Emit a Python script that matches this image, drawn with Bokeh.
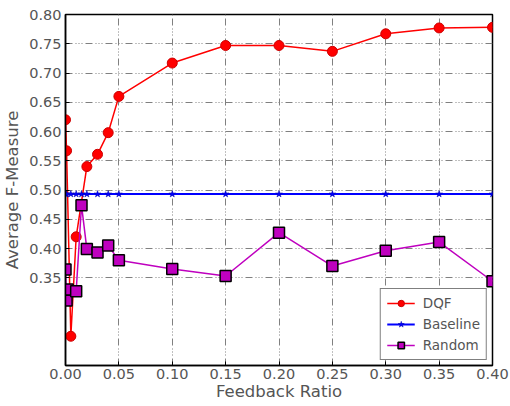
from bokeh.plotting import figure
from bokeh.models import Range1d, FixedTicker, PrintfTickFormatter, Legend, LegendItem
from bokeh.embed import file_html
from bokeh.resources import INLINE

# ---- data ----
dqf_x = [0.0, 0.001, 0.005, 0.01, 0.02, 0.03, 0.04, 0.05, 0.10, 0.15, 0.20, 0.25, 0.30, 0.35, 0.40]
dqf_y = [0.620, 0.567, 0.250, 0.420, 0.540, 0.561, 0.598, 0.660, 0.717, 0.747, 0.747, 0.737, 0.767, 0.777, 0.778]

base_x = [0.0, 0.001, 0.005, 0.01, 0.015, 0.02, 0.03, 0.04, 0.05, 0.10, 0.15, 0.20, 0.25, 0.30, 0.35, 0.40]
base_y = [0.493, 0.493, 0.493, 0.493, 0.493, 0.493, 0.493, 0.493, 0.493, 0.493, 0.493, 0.493, 0.493, 0.493, 0.493, 0.493]

rand_x = [0.0, 0.001, 0.002, 0.01, 0.015, 0.02, 0.03, 0.04, 0.05, 0.10, 0.15, 0.20, 0.25, 0.30, 0.35, 0.40]
rand_y = [0.364, 0.311, 0.330, 0.327, 0.474, 0.399, 0.393, 0.405, 0.380, 0.365, 0.353, 0.427, 0.370, 0.396, 0.411, 0.344]

x_ticks = [0.0, 0.05, 0.10, 0.15, 0.20, 0.25, 0.30, 0.35, 0.40]
y_ticks = [0.35, 0.40, 0.45, 0.50, 0.55, 0.60, 0.65, 0.70, 0.75, 0.80]

FONT = "DejaVu Sans"
TXT = "#555555"

p = figure(output_backend="svg", toolbar_location=None,
           width=510, height=405,
           min_border_left=64, min_border_right=18, min_border_top=14, min_border_bottom=40,
           x_range=Range1d(0.0, 0.4), y_range=Range1d(0.2, 0.8))

p.background_fill_color = "white"
p.border_fill_color = "white"
p.outline_line_color = "black"
p.outline_line_width = 1.5

for ax in (p.xaxis[0], p.yaxis[0]):
    ax.axis_line_color = "black"
    ax.axis_line_width = 1.5
    ax.major_tick_in = 4
    ax.major_tick_out = 0
    ax.minor_tick_line_color = None
    ax.major_label_text_font = FONT
    ax.major_label_text_font_size = "14.5px"
    ax.major_label_text_color = TXT
    ax.axis_label_text_font = FONT
    ax.axis_label_text_font_size = "16.5px"
    ax.axis_label_text_font_style = "normal"
    ax.axis_label_text_color = TXT
    ax.formatter = PrintfTickFormatter(format="%.2f")

p.xaxis.ticker = FixedTicker(ticks=x_ticks)
p.yaxis.ticker = FixedTicker(ticks=y_ticks)
p.xaxis.axis_label = "Feedback Ratio"
p.yaxis.axis_label = "Average F-Measure"
p.xaxis.major_label_standoff = 3
p.yaxis.major_label_standoff = 4
p.xaxis.axis_label_standoff = 0
p.yaxis.axis_label_standoff = 4

for g in (p.xgrid[0], p.ygrid[0]):
    g.grid_line_color = "#808080"
    g.grid_line_width = 1
    g.grid_line_dash = "7 3 1 2 1 2 1 3"

# DQF
l1 = p.line(dqf_x, dqf_y, line_color="#ff0000", line_width=1.5)
s1 = p.scatter(dqf_x, dqf_y, marker="circle", size=10, fill_color="#ff0000",
               line_color="#cc0000", line_width=1)
# Baseline
l2 = p.line(base_x, base_y, line_color="#0000ff", line_width=2)
s2 = p.scatter(base_x, base_y, marker="star", size=7, fill_color="#0000ff",
               line_color="#0000aa", line_width=0.5)
# Random
l3 = p.line(rand_x, rand_y, line_color="#bf00bf", line_width=1.5)
s3 = p.scatter(rand_x, rand_y, marker="square", size=11, fill_color="#bf00bf",
               line_color="black", line_width=1.5)

legend = Legend(items=[
    LegendItem(label="DQF", renderers=[l1, s1]),
    LegendItem(label="Baseline", renderers=[l2, s2]),
    LegendItem(label="Random", renderers=[l3, s3]),
], location="bottom_right")
legend.border_line_color = "black"
legend.border_line_width = 1.5
legend.background_fill_alpha = 1.0
legend.label_text_font = FONT
legend.label_text_font_size = "13.5px"
legend.label_text_color = TXT
legend.glyph_width = 28
legend.glyph_height = 16
legend.spacing = 5
legend.padding = 6
legend.margin = 5
legend.label_standoff = 8
p.add_layout(legend)

open("out.html", "w").write(file_html(p, INLINE))
